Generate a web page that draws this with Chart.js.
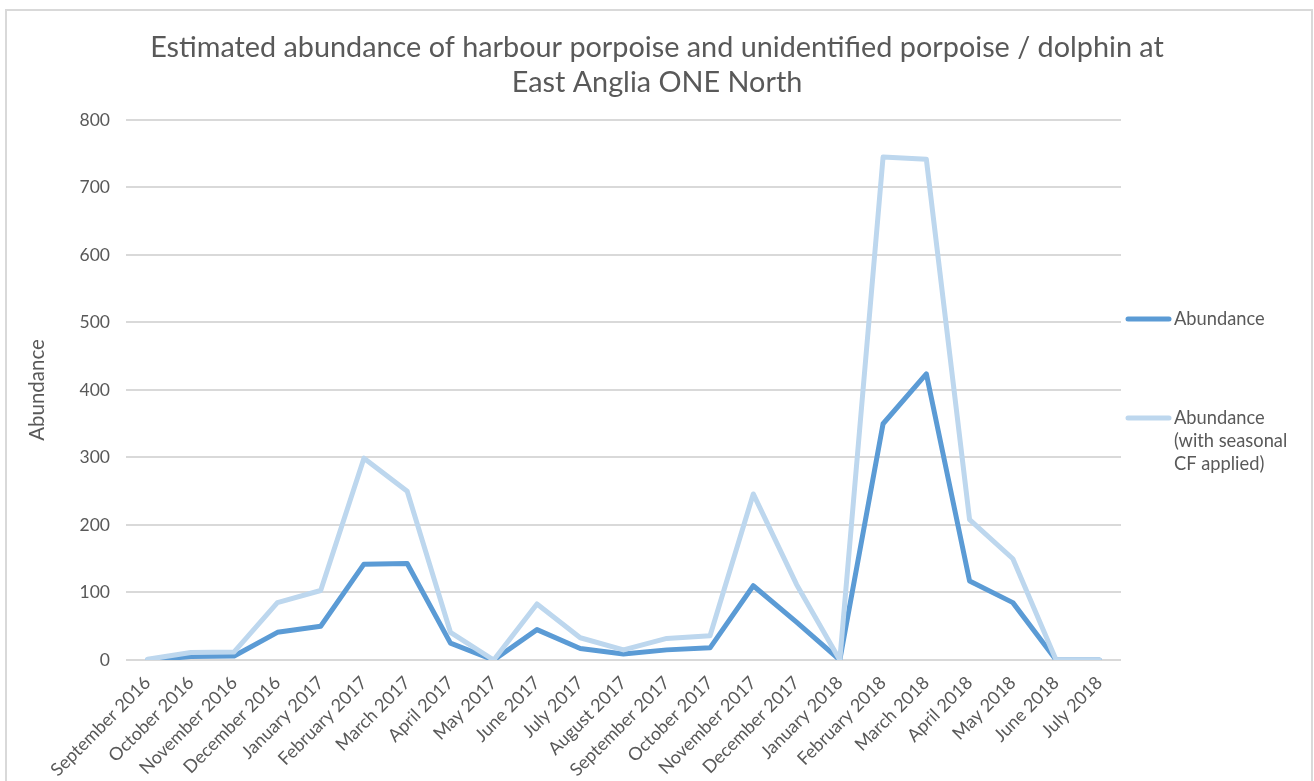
<!DOCTYPE html>
<html>
<head>
<meta charset="utf-8">
<script src="https://cdn.jsdelivr.net/npm/chart.js@4.4.1/dist/chart.umd.min.js"></script>
<style>
  html, body { margin: 0; padding: 0; background: #ffffff; }
  #wrap { width: 1314px; height: 781px; }
</style>
</head>
<body>
<div id="wrap"><canvas id="c" width="1314" height="781"></canvas></div>
<script>
const months = [
  "September 2016", "October 2016", "November 2016", "December 2016",
  "January 2017", "February 2017", "March 2017", "April 2017", "May 2017",
  "June 2017", "July 2017", "August 2017", "September 2017", "October 2017",
  "November 2017", "December 2017", "January 2018", "February 2018",
  "March 2018", "April 2018", "May 2018", "June 2018", "July 2018"
];
const abundance = [0, 5, 6, 41, 50, 142, 143, 25, 0, 45, 17, 9, 15, 18, 110, 56, 0, 350, 424, 117, 85, 0, 0];
const abundanceCF = [1, 11, 12, 85, 103, 299, 250, 41, 0, 83, 33, 15, 32, 36, 246, 112, 0, 745, 742, 208, 150, 0, 0];
const yTicks = [0, 100, 200, 300, 400, 500, 600, 700, 800];
const titleLines = [
  "Estimated abundance of harbour porpoise and unidentified porpoise / dolphin at",
  "East Anglia ONE North"
];
const seriesNames = ["Abundance", ["Abundance", "(with seasonal", "CF applied)"]];

const textColor = "#595959";
const fontFamily = "Lato, 'Open Sans', sans-serif";
const darkBlue = "#5b9bd5";
const lightBlue = "#bdd7ee";

const frame = {
  id: "frame",
  beforeDraw(chart) {
    const ctx = chart.ctx;
    ctx.save();
    ctx.fillStyle = "#ffffff";
    ctx.fillRect(0, 0, chart.width, chart.height);
    ctx.strokeStyle = "#d9d9d9";
    ctx.lineWidth = 2;
    ctx.strokeRect(6, 10, chart.width - 8, chart.height + 20);
    ctx.restore();
  }
};

const sideLegend = {
  id: "sideLegend",
  afterDraw(chart) {
    const ctx = chart.ctx;
    const area = chart.chartArea;
    const x0 = area.right + 5;
    const entries = [
      { color: darkBlue, y: 319, text: seriesNames[0] },
      { color: lightBlue, y: 418, text: seriesNames[1] }
    ];
    ctx.save();
    ctx.font = "18.3px " + fontFamily;
    ctx.fillStyle = textColor;
    ctx.textBaseline = "middle";
    ctx.textAlign = "left";
    entries.forEach(e => {
      ctx.strokeStyle = e.color;
      ctx.lineWidth = 5;
      ctx.lineCap = "round";
      ctx.beginPath();
      ctx.moveTo(x0 + 2, e.y);
      ctx.lineTo(x0 + 43, e.y);
      ctx.stroke();
      const lines = Array.isArray(e.text) ? e.text : [e.text];
      lines.forEach((t, i) => ctx.fillText(t, x0 + 48, e.y + i * 23));
    });
    ctx.restore();
  }
};

new Chart(document.getElementById("c"), {
  type: "line",
  data: {
    labels: months,
    datasets: [
      {
        label: "Abundance",
        data: abundance,
        borderColor: darkBlue,
        backgroundColor: darkBlue,
        borderWidth: 5,
        pointRadius: 0,
        tension: 0,
        borderJoinStyle: "round",
        borderCapStyle: "round",
        order: 1
      },
      {
        label: "Abundance (with seasonal CF applied)",
        data: abundanceCF,
        borderColor: lightBlue,
        backgroundColor: lightBlue,
        borderWidth: 5,
        pointRadius: 0,
        tension: 0,
        borderJoinStyle: "round",
        borderCapStyle: "round",
        order: 0
      }
    ]
  },
  options: {
    responsive: false,
    animation: false,
    devicePixelRatio: 1,
    layout: { padding: { left: 0, right: 0, top: 0, bottom: 0 } },
    plugins: {
      legend: { display: false },
      tooltip: { enabled: false },
      title: {
        display: true,
        text: titleLines,
        color: textColor,
        font: { family: fontFamily, size: 28.8, weight: "normal", lineHeight: 1.215 },
        padding: { top: 30, bottom: 20 }
      }
    },
    scales: {
      x: {
        offset: true,
        grid: { display: false },
        border: { display: false },
        ticks: {
          color: textColor,
          font: { family: fontFamily, size: 18 },
          minRotation: 45,
          maxRotation: 45,
          autoSkip: false,
          padding: 4
        },
        afterFit(scale) { scale.height = 121; }
      },
      y: {
        min: 0,
        max: 800,
        afterBuildTicks(scale) { scale.ticks = yTicks.map(v => ({ value: v })); },
        grid: { color: "#d9d9d9", lineWidth: 2, drawTicks: false },
        border: { display: false },
        ticks: {
          color: textColor,
          font: { family: fontFamily, size: 17.5 },
          padding: 16
        },
        title: {
          display: true,
          text: "Abundance",
          color: textColor,
          font: { family: fontFamily, size: 20.5, weight: "normal" },
          padding: { top: 25, bottom: 0 }
        },
        afterFit(scale) { scale.width = 126; }
      },
      yRight: {
        position: "right",
        display: true,
        grid: { display: false },
        border: { display: false },
        ticks: { display: false },
        afterFit(scale) { scale.width = 193; }
      }
    }
  },
  plugins: [frame, sideLegend]
});
</script>
</body>
</html>
